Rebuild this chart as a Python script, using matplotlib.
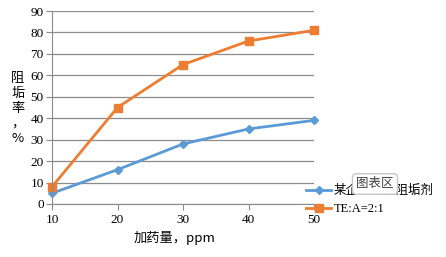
import matplotlib
matplotlib.use("Agg")
import matplotlib.pyplot as plt

plt.rcParams['font.family'] = ['Liberation Serif', 'Noto Sans CJK SC', 'DejaVu Sans']

dose = [10, 20, 30, 40, 50]
commercial = [5, 16, 28, 35, 39]
te_mix = [8, 45, 65, 76, 81]
labels = ['某企业商用阻垢剂', 'TE:A=2:1']

fig = plt.figure(figsize=(4.46, 2.57), dpi=100)
ax = fig.add_axes([52/446, 1-204/257, 262/446, 193/257])

l1, = ax.plot(dose, commercial, color='#5B9BD5', lw=2, marker='D', ms=4,
              label=labels[0], clip_on=False)
l2, = ax.plot(dose, te_mix, color='#ED7D31', lw=2, marker='s', ms=5.5,
              label=labels[1], clip_on=False)

ax.set_xlim(10, 50)
ax.set_ylim(0, 90)
ax.set_xticks(dose)
ax.set_yticks(range(0, 91, 10))
ax.grid(axis='y', color='#8C8C8C', lw=0.9)
ax.set_axisbelow(True)
for s in ['top', 'right']:
    ax.spines[s].set_visible(False)
ax.spines['left'].set_color('#8C8C8C')
ax.spines['bottom'].set_color('#8C8C8C')
ax.tick_params(axis='both', colors='#8C8C8C', labelcolor='black', labelsize=9.5, length=4)
ax.tick_params(axis='x', pad=3)
ax.tick_params(axis='y', pad=2)

fig.text(18/446, 1-108/257, '阻\n垢\n率\n，\n%', ha='center', va='center',
         fontsize=9.5, family=['Noto Sans CJK SC'], linespacing=1.2)
fig.text(175/446, 1-238/257, '加药量，ppm', ha='center', va='center',
         fontsize=9.5, family=['Noto Sans CJK SC'])

fig.legend(handles=[l1, l2], loc='center left', bbox_to_anchor=(300/446, 1-200/257),
           frameon=False, handlelength=2.0, handletextpad=0.2, borderpad=0,
           labelspacing=0.5, prop={'family': ['Liberation Serif', 'Noto Sans CJK SC'], 'size': 9})

# chart-area tooltip, drawn over the legend as in the screenshot
fig.text(375/446, 1-184/257, '图表区', ha='center', va='center', fontsize=9,
         family=['Noto Sans CJK SC'], color='#404040', zorder=20,
         bbox=dict(boxstyle='round,pad=0.3', fc='white', ec='#C8C8C8'))

fig.savefig('out.png', dpi=100)
